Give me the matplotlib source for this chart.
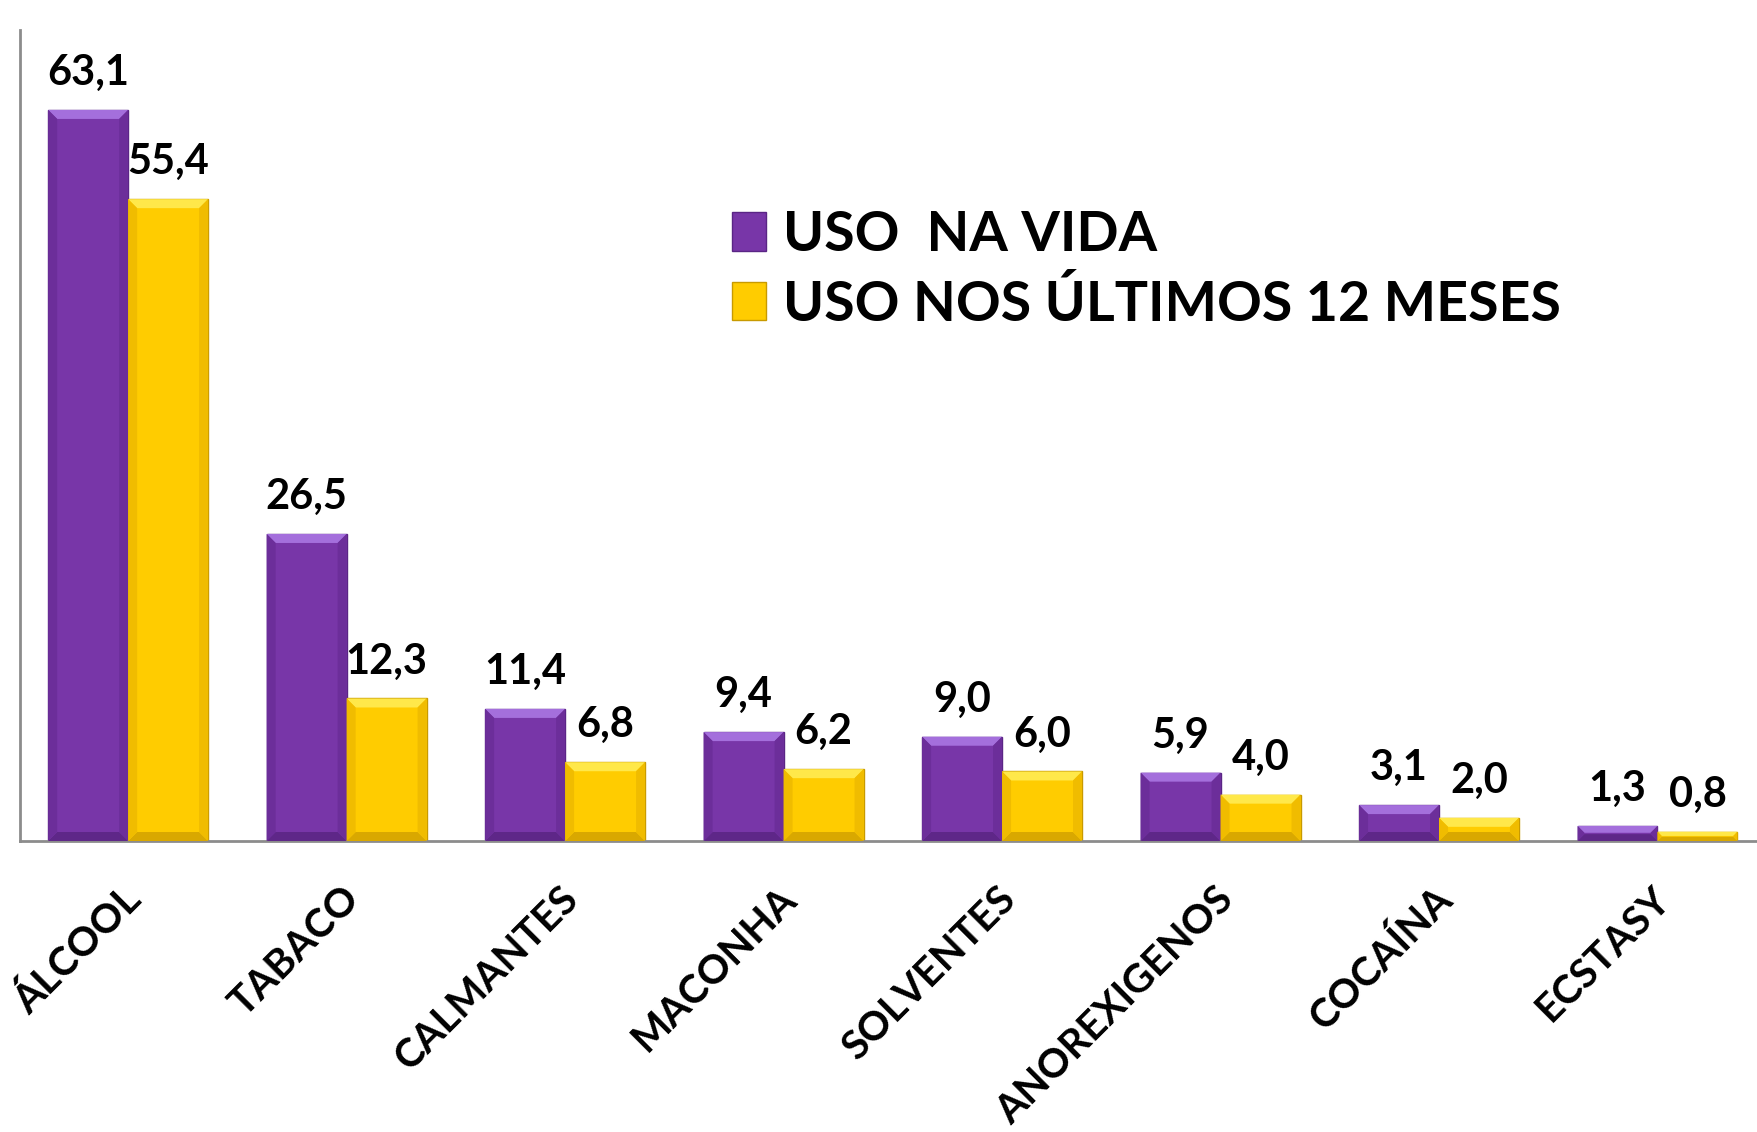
import matplotlib
matplotlib.use("Agg")
import matplotlib.pyplot as plt
from matplotlib.patches import Polygon
from matplotlib.transforms import ScaledTranslation
import numpy as np

categories = ["ÁLCOOL", "TABACO", "CALMANTES", "MACONHA", "SOLVENTES",
              "ANOREXIGENOS", "COCAÍNA", "ECSTASY"]
uso_na_vida = [63.1, 26.5, 11.4, 9.4, 9.0, 5.9, 3.1, 1.3]
uso_12_meses = [55.4, 12.3, 6.8, 6.2, 6.0, 4.0, 2.0, 0.8]
series_names = ["USO  NA VIDA", "USO NOS ÚLTIMOS 12 MESES"]

plt.rcParams['font.family'] = ['Lato', 'DejaVu Sans']
WEIGHT = "bold"

W, H = 1758, 1132
fig = plt.figure(figsize=(W / 100, H / 100), dpi=100)
ax_l, ax_r, ax_t, ax_b = 20, 1758, 30, 841
ax = fig.add_axes([ax_l / W, 1 - ax_b / H, (ax_r - ax_l) / W, (ax_b - ax_t) / H])

purple = "#7836A8"
yellow = "#FFCC00"
x = np.arange(len(categories))
bw = 0.366
b1 = ax.bar(x - bw / 2, uso_na_vida, bw, color=purple, edgecolor="#5A2585", linewidth=1, label=series_names[0])
b2 = ax.bar(x + bw / 2, uso_12_meses, bw, color=yellow, edgecolor="#C89A00", linewidth=1, label=series_names[1])

xlim = (-0.495, 7.46)
ylim = (0, 70)
ax.set_xlim(*xlim)
ax.set_ylim(*ylim)

# bevel effect
pxx = (xlim[1] - xlim[0]) / (ax_r - ax_l)
pxy = (ylim[1] - ylim[0]) / (ax_b - ax_t)
bev = 9
def bevel(bars, light, dark, side):
    for r in bars:
        x0, y0, w, h = r.get_x(), r.get_y(), r.get_width(), r.get_height()
        hp = h / pxy
        b = min(bev, hp / 2.2)
        dx, dy = b * pxx, b * pxy
        x1, y1 = x0 + w, y0 + h
        ax.add_patch(Polygon([(x0, y1), (x1, y1), (x1 - dx, y1 - dy), (x0 + dx, y1 - dy)],
                             closed=True, facecolor=light, edgecolor='none', zorder=3))
        ax.add_patch(Polygon([(x0, y0), (x1, y0), (x1 - dx, y0 + dy), (x0 + dx, y0 + dy)],
                             closed=True, facecolor=dark, edgecolor='none', zorder=3))
        ax.add_patch(Polygon([(x0, y0), (x0 + dx, y0 + dy), (x0 + dx, y1 - dy), (x0, y1)],
                             closed=True, facecolor=side, edgecolor='none', zorder=3))
        ax.add_patch(Polygon([(x1, y0), (x1 - dx, y0 + dy), (x1 - dx, y1 - dy), (x1, y1)],
                             closed=True, facecolor=side, edgecolor='none', zorder=3))

bevel(b1, "#A46FDC", "#5E2788", "#6C2E9A")
bevel(b2, "#FFE84A", "#D9A800", "#F0BC00")

def fmt(v):
    return f"{v:.1f}".replace(".", ",")

for bars, vals in ((b1, uso_na_vida), (b2, uso_12_meses)):
    for r, v in zip(bars, vals):
        ax.annotate(fmt(v), (r.get_x() + r.get_width() / 2, r.get_height()),
                    xytext=(0, 18), textcoords="offset pixels",
                    ha="center", va="bottom", fontsize=30, fontweight=WEIGHT, color="black")

ax.set_xticks(x)
ax.set_xticklabels(categories, rotation=45, ha="right", va="top",
                   rotation_mode="anchor", fontsize=29, fontweight=WEIGHT)
ax.tick_params(axis='x', length=0, pad=28)
shift = ScaledTranslation(-6 / 100, 0, fig.dpi_scale_trans)
for lab in ax.get_xticklabels():
    lab.set_transform(lab.get_transform() + shift)
ax.tick_params(axis='y', left=False, labelleft=False)
for s in ("top", "right"):
    ax.spines[s].set_visible(False)
for s in ("left", "bottom"):
    ax.spines[s].set_color("#8C8C8C")
    ax.spines[s].set_linewidth(2)

leg = ax.legend(handles=[b1, b2], labels=series_names, loc="upper left",
                bbox_to_anchor=(732 / W, 1 - 210 / H), bbox_transform=fig.transFigure,
                frameon=False, prop={'weight': WEIGHT, 'size': 40},
                handlelength=0.62, handleheight=0.68, handletextpad=0.3,
                labelspacing=0.32, borderpad=0, borderaxespad=0)

fig.savefig("out.png", dpi=100, facecolor="white")
